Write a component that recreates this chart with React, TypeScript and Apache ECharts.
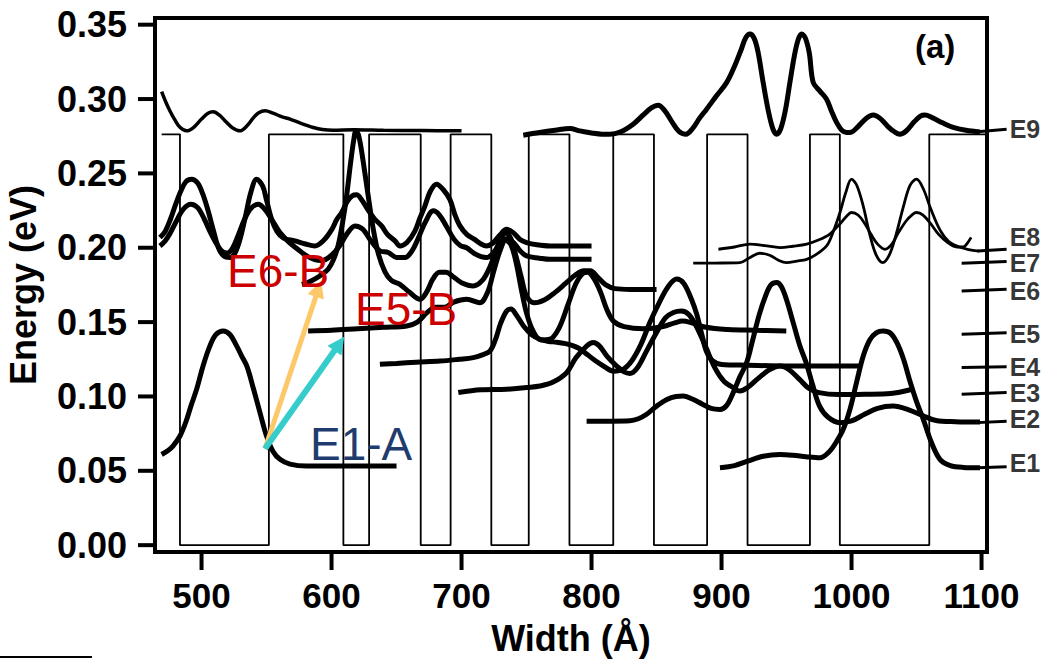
import React, { useEffect, useRef } from "react";
import * as echarts from "echarts";

const FONT = "'Liberation Sans', Arial, Helvetica, sans-serif";

// ---- axes ----
const xMin = 464.2;
const xMax = 1104.2;
const yMin = -0.0046;
const yMax = 0.3545;
const xTicks = [500, 600, 700, 800, 900, 1000, 1100];
const yTicks = [0, 0.05, 0.1, 0.15, 0.2, 0.25, 0.3, 0.35];

// ---- conduction band profile (barrier / well edges, Å) ----
const profileEdges = [469.3, 483.4, 551.8, 609.1, 628.9, 668.6, 691.6, 722.9, 751.7, 783.0, 816.7, 848.0, 888.9, 920.0, 968.0, 991.0, 1059.8, 1103.8];
const barrierHeight = 0.2763;

// ---- wavefunction curves [width Å, energy eV] ----
const e9Left = [[469.3,0.305],[472.5,0.298],[475.7,0.292],[479.5,0.286],[483.4,0.281],[488.5,0.2786],[494,0.281],[500,0.2865],[505,0.2905],[509,0.2914],[514,0.289],[519,0.2845],[524,0.2805],[529.5,0.2786],[535,0.282],[540,0.2875],[544,0.2908],[548.8,0.2921],[555,0.2905],[562,0.288],[568,0.2865],[577,0.2835],[586,0.2809],[593,0.2795],[601,0.279],[616.7,0.2793],[640,0.279],[670,0.2788],[700,0.2786]];
const e9Right = [[747.5,0.2757],[760,0.2775],[772,0.279],[783.4,0.2802],[791,0.2786],[800,0.2772],[808,0.2764],[814,0.2764],[822,0.2778],[832,0.2831],[840,0.2895],[846,0.294],[851.3,0.2959],[856,0.2925],[862,0.2845],[867,0.2785],[872.6,0.2764],[878,0.2805],[883,0.287],[888.5,0.2932],[896,0.302],[904,0.3112],[910,0.322],[915,0.333],[918.5,0.341],[921.8,0.3437],[925,0.341],[928,0.332],[932,0.3112],[936,0.292],[939.5,0.28],[942.4,0.2764],[945.5,0.28],[949,0.292],[952.6,0.3112],[956,0.329],[959,0.34],[961.6,0.3437],[964.5,0.341],[967.5,0.331],[970.5,0.3112],[975.5,0.3055],[980.8,0.2999],[984.5,0.292],[988.5,0.2843],[992.5,0.279],[996.2,0.2775],[1000,0.2778],[1005,0.2815],[1011,0.2868],[1016.7,0.2892],[1022,0.287],[1028,0.2815],[1033,0.278],[1037.2,0.2764],[1042,0.2785],[1048,0.2845],[1053,0.2885],[1056.5,0.2892],[1062,0.2875],[1070,0.284],[1078.2,0.2809],[1088,0.279],[1098.8,0.2779]];
const e7Left = [[468,0.2069],[472,0.211],[476,0.219],[480,0.229],[484,0.238],[488,0.2445],[492.4,0.2461],[497,0.2435],[501,0.236],[505,0.225],[509,0.212],[513,0.2],[517,0.1945],[521.8,0.1934],[526,0.197],[530,0.207],[534,0.222],[538,0.2375],[542.4,0.2461],[547,0.2415],[550,0.232],[553.9,0.2192],[558,0.211],[563,0.2065],[571.8,0.2046],[580,0.2025],[587.2,0.2012],[594,0.205],[600,0.212],[604,0.219],[607.8,0.2237],[612,0.231],[616,0.235],[619.3,0.2356],[623,0.2325],[628,0.2255],[633,0.2195],[638.5,0.2147],[643,0.209],[648.8,0.2046],[652.6,0.2012],[658,0.2035],[664,0.211],[668,0.22],[671.8,0.228],[676,0.238],[680.8,0.2427],[686,0.239],[691,0.2325],[695,0.222],[698.8,0.2147],[704,0.209],[710,0.2056],[715,0.2025],[719.3,0.2012],[724,0.203],[729,0.208],[734.7,0.2124],[740,0.21],[745,0.2055],[750,0.2035],[758,0.202],[768,0.2012],[785,0.2012],[800,0.2012]];
const e8Left = [[468,0.2012],[472,0.2045],[476,0.21],[481,0.2185],[486,0.226],[491.7,0.2293],[497,0.227],[502,0.2195],[507,0.21],[512,0.202],[516,0.1975],[520,0.1965],[524,0.2],[528,0.208],[533,0.219],[538,0.2265],[543.6,0.2293],[549,0.2255],[554,0.219],[560.3,0.2102],[567,0.204],[574,0.199],[580,0.195],[587,0.192],[593,0.1915],[600,0.195],[606,0.201],[612,0.2095],[618,0.2147],[624,0.2125],[630,0.205],[637,0.198],[643.6,0.1968],[650,0.1935],[656.5,0.1934],[662,0.198],[667,0.207],[672,0.217],[678.3,0.2248],[683,0.222],[688,0.215],[694,0.206],[699,0.2015],[703.9,0.2],[710,0.196],[715,0.194],[719.3,0.1934],[724,0.196],[729,0.202],[734.7,0.206],[740,0.2035],[745,0.198],[750,0.1945],[760,0.193],[768,0.1922],[785,0.1922],[800,0.1922]];
const e6 = [[577.2,0.1754],[582,0.1768],[587,0.1789],[592.5,0.182],[597.5,0.1857],[601.5,0.192],[605,0.2012],[608.5,0.217],[611.6,0.2349],[614.5,0.256],[617,0.272],[618.8,0.2786],[621,0.275],[624,0.26],[628.2,0.2349],[632,0.213],[636,0.196],[641,0.184],[646,0.178],[652.6,0.1754],[660,0.17],[668,0.1653],[673,0.17],[678,0.179],[683,0.1835],[688,0.1835],[693.6,0.1805],[700,0.1765],[709,0.1743],[716,0.178],[721.8,0.187],[726,0.197],[730,0.206],[734,0.21],[738,0.206],[742,0.194],[746,0.18],[750,0.1675],[756,0.163],[764,0.165],[772,0.17],[780,0.176],[788,0.182],[794,0.1845],[799,0.1845],[805,0.18],[811,0.175],[818,0.1725],[830,0.172],[850,0.172]];
const e5 = [[582,0.144],[600,0.1445],[620,0.1455],[640,0.1465],[657.8,0.1474],[666,0.15],[673,0.156],[680,0.16],[687,0.16],[694,0.1635],[704,0.1653],[714,0.163],[720,0.17],[725,0.185],[730,0.199],[734,0.205],[738,0.202],[742,0.19],[746,0.172],[750,0.156],[755,0.144],[761,0.138],[768,0.1385],[775,0.146],[782,0.162],[788,0.176],[793,0.1825],[797,0.1835],[802,0.179],[807,0.17],[812,0.158],[817,0.1505],[825,0.147],[840,0.1455],[855,0.147],[864,0.1495],[870,0.1507],[877,0.1495],[888,0.1465],[905,0.145],[925,0.1445],[949.8,0.144]];
const e4 = [[637.2,0.1216],[650,0.1222],[665,0.123],[683.4,0.1238],[698,0.125],[709,0.1261],[716,0.128],[721.8,0.1305],[726,0.138],[730,0.149],[734.7,0.1575],[738,0.1588],[742,0.155],[748,0.147],[754,0.1415],[760.3,0.1385],[767,0.137],[773.2,0.1365],[780,0.1355],[786,0.134],[791,0.132],[797,0.128],[803,0.124],[810,0.12],[817,0.117],[824,0.118],[831,0.124],[838,0.135],[845,0.15],[852,0.163],[859,0.174],[865.5,0.179],[871,0.176],[877,0.165],[881,0.155],[885,0.141],[888.5,0.13],[893,0.124],[900,0.1215],[920,0.121],[950,0.1205],[980,0.1205],[1006.5,0.1205]];
const e3 = [[697.5,0.1026],[715,0.1045],[734.7,0.1048],[750,0.106],[760.3,0.107],[770,0.1095],[780.8,0.116],[788,0.126],[796.2,0.1339],[801.3,0.1362],[806,0.134],[812,0.127],[819.3,0.1205],[825,0.1165],[829.5,0.1155],[835,0.119],[842,0.13],[850,0.143],[857,0.153],[863,0.1565],[869,0.1575],[875,0.155],[881,0.1465],[888,0.133],[895,0.119],[902,0.11],[909,0.106],[914,0.1036],[920,0.106],[928,0.112],[937,0.118],[945,0.1205],[952,0.118],[960,0.1115],[967,0.1055],[975,0.1026],[990,0.1013],[1010,0.1015],[1030,0.102],[1046,0.1047]];
const e2 = [[796.2,0.0834],[815,0.0834],[829.5,0.0836],[836,0.085],[842.4,0.088],[850,0.0935],[858,0.098],[865,0.1],[870.5,0.1003],[877,0.0985],[885,0.095],[892,0.092],[898.8,0.0913],[904,0.094],[909,0.1026],[914,0.113],[919.3,0.1227],[924,0.138],[929,0.155],[934,0.168],[938,0.175],[942.4,0.1766],[946,0.174],[950,0.165],[955,0.15],[960.3,0.1339],[965.1,0.1227],[970,0.108],[975.4,0.0935],[982,0.086],[991,0.0824],[1000,0.0835],[1010,0.088],[1020,0.092],[1032,0.0935],[1044,0.091],[1055,0.087],[1065,0.0838],[1080,0.083],[1098.8,0.0828]];
const e1 = [[898.8,0.0521],[910,0.0535],[920,0.0565],[932,0.0598],[944.9,0.061],[955,0.0605],[965,0.0595],[975.7,0.0588],[983,0.063],[988,0.069],[993.6,0.0779],[999,0.092],[1004,0.11],[1009,0.1272],[1014,0.138],[1019,0.1428],[1024.4,0.144],[1030,0.1425],[1035,0.136],[1040,0.125],[1045,0.11],[1050,0.0965],[1055.2,0.0846],[1061,0.07],[1068,0.0577],[1076,0.0535],[1086,0.0523],[1098.8,0.0521]];
const e1A = [[469.3,0.061],[474,0.0635],[478,0.0666],[483.4,0.0734],[488,0.083],[492,0.094],[496.2,0.1048],[501,0.12],[506,0.133],[511,0.1415],[516.7,0.144],[522,0.1415],[527,0.134],[531,0.127],[535,0.12],[540,0.105],[545,0.089],[550,0.0734],[555,0.063],[560.3,0.0577],[568,0.0545],[580.8,0.0532],[600,0.0532],[625,0.0532],[650,0.0532]];
const e7Right = [[878.2,0.1896],[895,0.1897],[914.2,0.19],[922,0.1935],[929.5,0.1963],[937,0.195],[944,0.1915],[950,0.19],[958,0.191],[965.5,0.1922],[972,0.195],[980.8,0.2012],[986,0.211],[991.1,0.2237],[995.5,0.237],[1000,0.2461],[1004,0.242],[1009,0.228],[1014,0.209],[1019,0.195],[1024,0.19],[1029,0.195],[1034,0.208],[1040,0.228],[1045,0.242],[1050,0.2461],[1055,0.24],[1061,0.226],[1068,0.212],[1075,0.204],[1083,0.2005],[1090,0.1988],[1098,0.1978]];
const e8Right = [[897.6,0.199],[910,0.2005],[921.8,0.2024],[933,0.2015],[945,0.2001],[955,0.201],[965.5,0.2024],[974,0.205],[983,0.209],[991,0.216],[996,0.221],[1000,0.2237],[1005,0.222],[1010,0.2165],[1015,0.209],[1020,0.2025],[1025.7,0.199],[1031,0.2025],[1036,0.21],[1042,0.218],[1047,0.2225],[1050,0.2237],[1055,0.222],[1061,0.216],[1067,0.209],[1074,0.2035],[1081,0.2005],[1086,0.2005],[1089,0.203],[1092,0.207]];

// ---- level labels on the right ----
const levelNames = ["E1", "E2", "E3", "E4", "E5", "E6", "E7", "E8", "E9"];
const leaderStartX = [1097, 1097, 1084.7, 1084.7, 1084.7, 1084.7, 1084.7, 1097, 1097];
const leaderEndX = 1119.3;
const leaderStartE = [0.0521, 0.0824, 0.1014, 0.1194, 0.1418, 0.1709, 0.1896, 0.1978, 0.278];
const leaderEndE = [0.0528, 0.0834, 0.1026, 0.12, 0.1429, 0.1721, 0.1907, 0.199, 0.2797];
const labelShiftPx = [-4, -2, 0, 0, 1, 2, 1, -12, 0];

// ---- transition arrows ----
const arrowStart = [548.8, 0.0648];
const orangeTip = [590.0, 0.1725];
const cyanTip = [606.0, 0.1355];

const curveStyles: { data: number[][]; width: number }[] = [
  { data: e9Left, width: 3.5 },
  { data: e9Right, width: 5 },
  { data: e7Left, width: 5 },
  { data: e8Left, width: 5 },
  { data: e6, width: 5 },
  { data: e5, width: 5 },
  { data: e4, width: 5 },
  { data: e3, width: 5 },
  { data: e2, width: 5 },
  { data: e1, width: 5 },
  { data: e1A, width: 5 },
  { data: e7Right, width: 2.8 },
  { data: e8Right, width: 2.8 },
];

function buildProfile() {
  const pts: number[][] = [];
  for (let i = 0; i < profileEdges.length - 1; i++) {
    const lvl = i % 2 === 0 ? barrierHeight : 0;
    pts.push([profileEdges[i], lvl]);
    pts.push([profileEdges[i + 1], lvl]);
  }
  return pts;
}

const staticGraphics: any[] = [
  { type: "text", id: "t-e6b", left: 227, top: 248, z: 10, style: { text: "E6-B", font: `46px ${FONT}`, fill: "#cc0000" } },
  { type: "text", id: "t-e5b", left: 355, top: 286, z: 10, style: { text: "E5-B", font: `46px ${FONT}`, fill: "#cc0000" } },
  { type: "text", id: "t-e1a", left: 310, top: 421, z: 10, style: { text: "E1-A", font: `46px ${FONT}`, fill: "#1f3c6e" } },
  { type: "text", id: "t-a", left: 915, top: 30, z: 10, style: { text: "(a)", font: `bold 33px ${FONT}`, fill: "#000" } },
  { type: "line", id: "stray", z: 10, shape: { x1: 0, y1: 657, x2: 92, y2: 657 }, style: { stroke: "#000", lineWidth: 2 } },
];

export default function App() {
  const ref = useRef<HTMLDivElement>(null);
  useEffect(() => {
    const chart = echarts.init(ref.current!, null, { renderer: "svg" });
    const series: any[] = [];
    series.push({
      type: "line",
      data: buildProfile(),
      symbol: "none",
      silent: true,
      lineStyle: { color: "#000", width: 1.8 },
      z: 1,
    });
    curveStyles.forEach((c) => {
      series.push({
        type: "line",
        data: c.data,
        smooth: 0.35,
        symbol: "none",
        silent: true,
        lineStyle: { color: "#000", width: c.width },
        z: 3,
      });
    });
    series.push({
      type: "scatter",
      clip: false,
      silent: true,
      symbolSize: 0,
      z: 5,
      data: levelNames.map((nm, i) => ({
        value: [leaderEndX, leaderEndE[i]],
        name: nm,
        label: { offset: [0, labelShiftPx[i]] },
      })),
      label: {
        show: true,
        position: "right",
        distance: 3,
        formatter: (p: any) => p.name,
        color: "#000",
        fontFamily: FONT,
        fontWeight: "bold",
        fontSize: 25,
      },
    });
    series.push({
      type: "lines",
      coordinateSystem: "cartesian2d",
      symbol: ["none", "triangle"],
      symbolSize: 17,
      silent: true,
      z: 4,
      data: [
        { coords: [arrowStart, orangeTip], lineStyle: { color: "#fdc86a", width: 5, opacity: 1 } },
        { coords: [arrowStart, cyanTip], lineStyle: { color: "#36cccc", width: 6, opacity: 1 } },
      ],
    });

    const hiddenBits = {
      axisLine: { show: false },
      axisTick: { show: false, length: 0 },
      minorTick: { show: false, length: 0, splitNumber: 1 },
      minorSplitLine: { show: false },
      splitLine: { show: false },
      splitArea: { show: false },
    };

    chart.setOption({
      animation: false,
      backgroundColor: "#fff",
      grid: {
        left: 155,
        right: 72,
        top: 18,
        bottom: 109,
        show: true,
        borderColor: "#000",
        borderWidth: 4,
        containLabel: false,
        outerBoundsMode: "none",
      },
      xAxis: {
        type: "value",
        min: xMin,
        max: xMax,
        name: "Width (Å)",
        nameLocation: "middle",
        nameGap: 68,
        nameTextStyle: { fontFamily: FONT, fontWeight: "bold", fontSize: 36, color: "#000" },
        ...hiddenBits,
        axisLabel: {
          customValues: xTicks,
          margin: 26,
          fontFamily: FONT,
          fontWeight: "bold",
          fontSize: 35,
          color: "#000",
          formatter: (v: number) => String(Math.round(v)),
        },
      },
      yAxis: {
        type: "value",
        min: yMin,
        max: yMax,
        name: "Energy (eV)",
        nameLocation: "middle",
        nameGap: 114,
        nameTextStyle: { fontFamily: FONT, fontWeight: "bold", fontSize: 36, color: "#000" },
        ...hiddenBits,
        axisLabel: {
          customValues: yTicks,
          margin: 28,
          fontFamily: FONT,
          fontWeight: "bold",
          fontSize: 36,
          color: "#000",
          formatter: (v: number) => v.toFixed(2),
        },
      },
      graphic: staticGraphics,
      series,
    });

    // ticks and leader lines drawn through the grid's own coordinate conversion
    const toPx = (x: number, y: number) => chart.convertToPixel({ gridIndex: 0 }, [x, y]) as number[];
    const extra: any[] = [];
    xTicks.forEach((v, i) => {
      const p = toPx(v, yMin);
      extra.push({ type: "line", id: "xt" + i, z: 10, shape: { x1: p[0], y1: p[1], x2: p[0], y2: p[1] + 18 }, style: { stroke: "#000", lineWidth: 4 } });
    });
    yTicks.forEach((v, i) => {
      const p = toPx(xMin, v);
      extra.push({ type: "line", id: "yt" + i, z: 10, shape: { x1: p[0] - 17, y1: p[1], x2: p[0], y2: p[1] }, style: { stroke: "#000", lineWidth: 4 } });
    });
    levelNames.forEach((nm, i) => {
      const a = toPx(leaderStartX[i], leaderStartE[i]);
      const b = toPx(leaderEndX, leaderEndE[i]);
      extra.push({ type: "line", id: "ld" + i, z: 10, shape: { x1: a[0], y1: a[1], x2: b[0], y2: b[1] }, style: { stroke: "#000", lineWidth: 3 } });
    });
    chart.setOption({ graphic: staticGraphics.concat(extra) });

    return () => chart.dispose();
  }, []);
  return (
    <div
      ref={ref}
      style={{ position: "fixed", left: 0, top: 0, width: 1059, height: 661, background: "#fff" }}
    />
  );
}
